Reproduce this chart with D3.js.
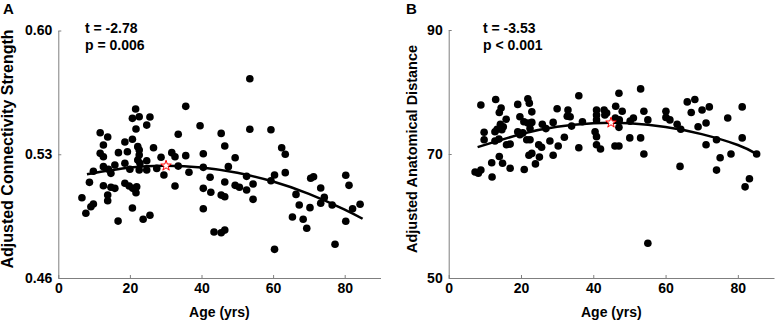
<!DOCTYPE html>
<html><head><meta charset="utf-8">
<script src="https://cdn.jsdelivr.net/npm/d3@7"></script>
<style>
body{margin:0;background:#fff}
svg{display:block}
text{font-family:"Liberation Sans",Arial,Helvetica,sans-serif;font-weight:bold;fill:#000}
</style>
</head><body>
<svg id="chart" width="775" height="321"></svg>
<script>
// ---------- data ----------
const xTicks = [0, 20, 40, 60, 80];
const yTicksA = [0.46, 0.53, 0.60];
const yTicksB = [50, 70, 90];

const agesA = [21.6,20.7,22.6,25.6,35.6,21.7,24.7,39.6,11.7,13.8,12.6,18.6,20.7,22.2,22.6,26.6,33.5,11.7,12.6,16.8,19.3,22.6,22.2,24.7,28.7,31.7,32.6,35.6,40.5,9.8,12.6,14.0,14.7,15.8,18.6,20.0,22.6,22.8,24.7,27.5,29.5,33.5,36.5,40.5,42.4,8.7,12.6,14.7,15.8,18.6,19.8,20.8,21.9,21.7,32.6,40.5,6.6,9.1,9.8,7.7,13.8,13.8,20.7,40.5,25.6,23.7,16.7,
45.5,53.5,53.5,59.4,46.5,49.4,62.4,63.4,47.5,52.6,60.4,59.4,63.4,46.5,42.6,49.4,50.6,54.4,52.6,45.5,46.5,54.4,43.5,45.5,46.5,60.4,70.5,71.3,73.3,66.4,67.3,70.3,73.3,74.3,76.5,80.3,81.2,82.2,84.3,65.4,68.4,69.4,80.3,77.3];
const valuesA = [0.5556,0.5503,0.5512,0.5511,0.5571,0.5443,0.5465,0.5461,0.5422,0.5398,0.5352,0.5369,0.5385,0.5343,0.5324,0.5337,0.5413,0.5305,0.5286,0.5309,0.5314,0.5296,0.5267,0.5263,0.5283,0.5309,0.5286,0.5292,0.5303,0.5204,0.5230,0.5215,0.5192,0.5239,0.5249,0.5215,0.5211,0.5249,0.5211,0.5220,0.5183,0.5233,0.5198,0.5226,0.5170,0.5141,0.5122,0.5113,0.5107,0.5136,0.5120,0.5107,0.5116,0.5082,0.5120,0.5107,0.5054,0.5003,0.5019,0.4966,0.5069,0.5037,0.4996,0.4992,0.4955,0.4932,0.4922,
0.5418,0.5727,0.5441,0.5439,0.5347,0.5280,0.5337,0.5300,0.5230,0.5175,0.5183,0.5150,0.5196,0.5143,0.5085,0.5124,0.5113,0.5132,0.5098,0.5069,0.5060,0.5045,0.4860,0.4856,0.4871,0.4762,0.5164,0.5173,0.5109,0.5073,0.5013,0.4998,0.5023,0.5056,0.5013,0.5181,0.5124,0.4992,0.5017,0.4945,0.4932,0.4881,0.4921,0.4791];

const agesB = [8.9,13.0,14.5,14.0,19.1,21.9,22.3,23.0,19.7,20.8,15.9,14.3,13.4,14.7,15.1,9.8,12.8,9.8,12.8,13.9,16.0,17.0,19.1,19.7,20.5,21.6,22.5,22.5,21.9,23.0,25.9,26.9,28.9,30.0,33.0,32.8,33.6,36.0,34.0,37.0,28.0,32.0,30.3,24.9,25.7,22.2,23.0,25.1,28.9,36.0,40.5,40.9,40.9,40.9,40.9,14.0,11.9,14.9,17.0,20.9,24.0,7.3,8.2,8.9,12.0,
40.9,43.0,43.7,43.2,46.2,47.1,48.0,53.1,54.0,46.1,47.2,47.1,50.2,51.1,55.1,60.1,60.1,61.2,63.2,64.2,42.0,46.0,47.1,50.1,53.1,54.0,66.0,68.1,67.1,70.1,72.1,71.2,69.0,77.2,81.2,81.2,74.1,71.2,64.0,75.1,78.1,74.1,85.2,83.2,82.0,55.1];
const valuesB = [77.9,78.8,77.4,76.7,78.0,78.9,78.2,76.8,76.0,75.2,75.6,74.8,74.0,73.9,74.4,73.5,73.6,72.3,72.1,72.4,71.5,71.6,73.6,73.1,73.4,72.3,72.3,74.1,75.0,75.1,74.8,74.1,75.1,77.3,77.1,76.1,76.0,79.4,74.5,75.2,72.1,72.7,71.3,71.5,71.1,69.8,70.1,69.5,69.8,71.0,73.6,72.8,77.1,76.3,71.5,69.6,68.6,68.5,67.7,67.5,68.4,67.1,66.9,67.4,66.3,
75.5,77.1,76.6,76.3,77.7,79.8,76.9,80.5,76.9,75.8,75.5,74.3,75.3,75.8,75.5,76.9,75.9,75.5,74.8,74.0,70.8,71.3,71.3,72.6,72.6,70.0,78.4,78.8,76.7,77.1,77.6,75.0,74.4,75.8,77.6,72.6,72.3,71.5,68.0,69.4,70.0,67.4,70.0,66.0,64.7,55.6];

// fitted curves
const trendAgesA = [8, 20, 30, 40, 50, 60, 70, 80, 85];
const trendValuesA = [0.5187, 0.5225, 0.5235, 0.5225, 0.5195, 0.5146, 0.5076, 0.4987, 0.4935];
const trendAgesB = [8, 20, 30, 40, 45, 50, 60, 70, 80, 85];
const trendValuesB = [71.1, 73.2, 74.4, 74.95, 75.05, 74.95, 74.35, 73.2, 71.45, 70.05];

// mean markers (stars)
const starA = [30.1, 0.5235];
const starB = [44.9, 75.05];

const statsA = ["t = -2.78", "p = 0.006"];
const statsB = ["t = -3.53", "p < 0.001"];

// ---------- drawing ----------
const svg = d3.select("#chart");
const AXIS_GRAY = "#7f7f7f";

function panel(cfg) {
  const x = d3.scaleLinear().domain([0, 90]).range([cfg.left, cfg.right]);
  const y = d3.scaleLinear().domain(cfg.yDomain).range([cfg.bottom, cfg.top]);
  const g = svg.append("g");

  const xAxis = g.append("g").attr("transform", `translate(0,${cfg.bottom})`)
    .call(d3.axisBottom(x).tickValues(xTicks).tickSizeInner(-3).tickSizeOuter(0).tickPadding(5));
  const yAxis = g.append("g").attr("transform", `translate(${cfg.left},0)`)
    .call(d3.axisLeft(y).tickValues(cfg.yTicks).tickFormat(cfg.yFormat).tickSizeInner(-3).tickSizeOuter(0).tickPadding(6));
  [xAxis, yAxis].forEach(a => {
    a.select(".domain").attr("stroke", AXIS_GRAY).attr("stroke-width", 1);
    a.selectAll(".tick line").attr("stroke", AXIS_GRAY);
    a.selectAll(".tick text").attr("fill", "#000")
      .style("font-family", '"Liberation Sans",Arial,sans-serif')
      .style("font-weight", "bold").style("font-size", "14px");
  });

  // points
  g.append("g").selectAll("circle").data(cfg.ages.map((a, i) => [a, cfg.values[i]]))
    .join("circle")
    .attr("cx", d => x(d[0])).attr("cy", d => y(d[1])).attr("r", 3.8)
    .attr("fill", "#000");

  // trend
  const line = d3.line().x(d => x(d[0])).y(d => y(d[1])).curve(d3.curveNatural);
  g.append("path").datum(cfg.trendAges.map((a, i) => [a, cfg.trendValues[i]]))
    .attr("d", line).attr("fill", "none").attr("stroke", "#000").attr("stroke-width", 2.5);

  // star
  g.append("path")
    .attr("d", d3.symbol(d3.symbolStar).size(34)())
    .attr("transform", `translate(${x(cfg.star[0])},${y(cfg.star[1])})`)
    .attr("fill", "#fff").attr("stroke", "#ff0000").attr("stroke-width", 1);

  // stats
  cfg.stats.forEach((s, i) => {
    g.append("text").attr("x", cfg.statsX).attr("y", 33 + i * 17)
      .style("font-size", "14px").text(s);
  });

  // panel letter
  g.append("text").attr("x", cfg.letterX).attr("y", 14).style("font-size", "15px").text(cfg.letter);

  // axis titles
  g.append("text").attr("x", (cfg.left + cfg.right) / 2).attr("y", 317)
    .attr("text-anchor", "middle").style("font-size", "14px").text("Age (yrs)");
  g.append("text")
    .attr("transform", `translate(${cfg.ylabelX},149) rotate(-90)`)
    .attr("text-anchor", "middle").style("font-size", cfg.ylabelSize + "px").text(cfg.ylabel);
}

panel({
  left: 58.3, right: 380.5, top: 30.5, bottom: 278,
  yDomain: [0.46, 0.60], yTicks: yTicksA, yFormat: d3.format(".2f"),
  ages: agesA, values: valuesA,
  trendAges: trendAgesA, trendValues: trendValuesA,
  star: starA, stats: statsA, statsX: 85,
  letter: "A", letterX: 3,
  ylabel: "Adjusted Connectivity Strength", ylabelX: 13, ylabelSize: 16
});

panel({
  left: 448.7, right: 774, top: 30, bottom: 278,
  yDomain: [50, 90], yTicks: yTicksB, yFormat: d3.format("d"),
  ages: agesB, values: valuesB,
  trendAges: trendAgesB, trendValues: trendValuesB,
  star: starB, stats: statsB, statsX: 483,
  letter: "B", letterX: 406,
  ylabel: "Adjusted Anatomical Distance", ylabelX: 417, ylabelSize: 14.5
});
</script>
</body></html>
